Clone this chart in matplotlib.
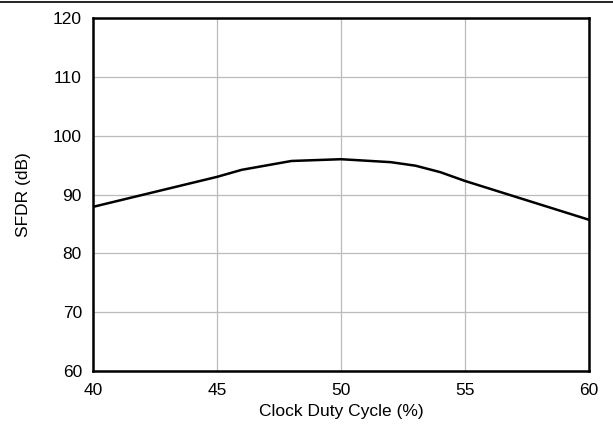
import numpy as np
import matplotlib
matplotlib.use("Agg")
from matplotlib import pyplot as plt
from matplotlib.lines import Line2D

duty = [40, 45, 46, 48, 50, 52, 53, 54, 55, 60]
sfdr = [87.9, 93.0, 94.2, 95.7, 96.0, 95.5, 94.9, 93.8, 92.3, 85.7]
xticks = [40, 45, 50, 55, 60]
yticks = [60, 70, 80, 90, 100, 110, 120]

plt.rcParams['font.family'] = ['Liberation Sans', 'DejaVu Sans']

fig = plt.figure(figsize=(6.13, 4.24), dpi=100)
ax = fig.add_axes([0.1517, 0.125, 0.8093, 0.8325])
ax.plot(duty, sfdr, color='black', lw=1.8)
ax.set_xlim(40, 60)
ax.set_ylim(60, 120)
ax.set_xticks(xticks)
ax.set_yticks(yticks)
ax.grid(True, color='#bbbbbb', lw=0.9)
ax.tick_params(length=0, labelsize=12.5)
ax.tick_params(axis='y', pad=8)
ax.tick_params(axis='x', pad=8.5)
for s in ax.spines.values():
    s.set_linewidth(1.8)
ax.set_xlabel('Clock Duty Cycle (%)', fontsize=12.5, labelpad=4.5)
ax.set_ylabel('SFDR (dB)', fontsize=12.5, labelpad=16)

# rule across the top of the figure
fig.add_artist(Line2D([0, 1], [0.995, 0.995], color='black', lw=1.2, transform=fig.transFigure))

fig.savefig('out.png', dpi=100)
